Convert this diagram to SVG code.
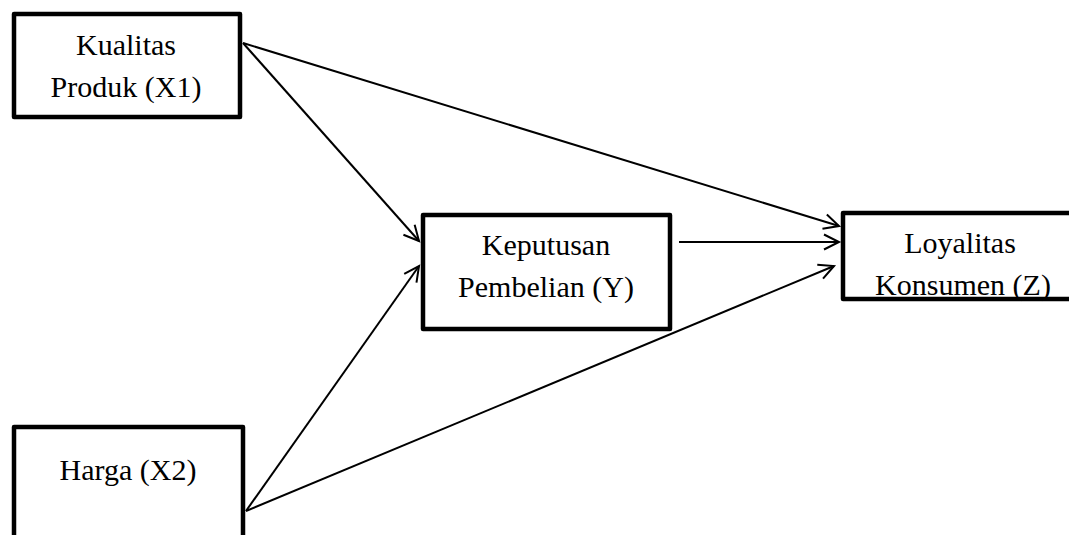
<svg xmlns="http://www.w3.org/2000/svg" width="1069" height="535" viewBox="0 0 1069 535">
<style>
.box{fill:#fff;stroke:#000;stroke-width:4.5;stroke-linejoin:round}
.lbl{font-family:'Liberation Serif','Times New Roman','DejaVu Serif',serif;font-size:30px;fill:#000;text-anchor:middle}
.conn{stroke:#000;stroke-width:2;fill:none}
</style>
<defs>
<marker id="arr" markerUnits="userSpaceOnUse" markerWidth="20" markerHeight="20" viewBox="-17 -10 20 20" refX="0" refY="0" orient="auto">
<polyline points="-15,-7.5 0,0 -15,7.5" fill="none" stroke="#000" stroke-width="2" stroke-linejoin="miter"/>
</marker>
</defs>
<rect width="1069" height="535" fill="#fff"/>
<g id="connectors">
<line class="conn" x1="243" y1="43" x2="419" y2="241" marker-end="url(#arr)"/>
<line class="conn" x1="243" y1="43" x2="839" y2="226" marker-end="url(#arr)"/>
<line class="conn" x1="679" y1="242" x2="839" y2="242" marker-end="url(#arr)"/>
<line class="conn" x1="246" y1="511" x2="419" y2="266" marker-end="url(#arr)"/>
<line class="conn" x1="246" y1="511" x2="834" y2="266" marker-end="url(#arr)"/>
</g>
<g id="node-x1">
<rect class="box" x="14" y="14" width="226" height="103"/>
<text class="lbl" x="126" y="55" font-family="Liberation Serif, serif">Kualitas</text>
<text class="lbl" x="126" y="97" font-family="Liberation Serif, serif">Produk (X1)</text>
</g>
<g id="node-y">
<rect class="box" x="423" y="215" width="247" height="114"/>
<text class="lbl" x="546" y="255">Keputusan</text>
<text class="lbl" x="546" y="297">Pembelian (Y)</text>
</g>
<g id="node-z">
<rect class="box" x="843" y="213" width="234" height="86"/>
<text class="lbl" x="960" y="253">Loyalitas</text>
<text class="lbl" x="963" y="295">Konsumen (Z)</text>
</g>
<g id="node-x2">
<rect class="box" x="14" y="427" width="229" height="130"/>
<text class="lbl" x="128" y="480">Harga (X2)</text>
</g>
</svg>
